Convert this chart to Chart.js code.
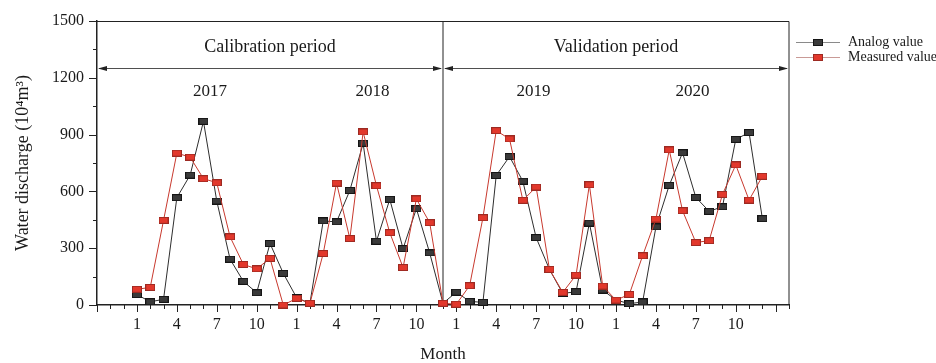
<!DOCTYPE html>
<html lang="en">
<head>
    <meta charset="UTF-8">
    <title>Water discharge</title>
    <script src="https://cdn.jsdelivr.net/npm/chart.js"></script>
    <style>
        body { margin: 0; background: #fff; }
        #chart { display: block; }
    </style>
</head>
<body>
    <canvas id="chart" width="936" height="363"></canvas>
    <script>
        // month index 0 = Jan 2017 ... 47 = Dec 2020
        const monthIndex = [...Array(48).keys()];
        const analogValue = [
            55, 17, 30, 567, 686, 970, 549, 242, 125, 65, 325, 167,
            39, 9, 444, 439, 605, 854, 337, 558, 298, 509, 275, 9,
            68, 19, 14, 684, 784, 654, 356, 188, 61, 70, 433, 79,
            26, 7, 16, 412, 632, 804, 568, 495, 519, 875, 911, 456
        ];
        const measuredValue = [
            83, 93, 447, 802, 781, 667, 646, 360, 214, 191, 246, 0,
            35, 9, 272, 644, 351, 914, 630, 382, 198, 560, 435, 9,
            4, 102, 461, 921, 877, 553, 623, 188, 67, 158, 635, 100,
            26, 56, 260, 454, 819, 498, 330, 340, 584, 740, 554, 680
        ];
        const monthLabels = ['1', '2', '3', '4', '5', '6', '7', '8', '9', '10', '11', '12'];
        const yearLabels = ['2017', '2018', '2019', '2020'];
        const yearLabelPos = [5.5, 17.7, 29.8, 41.75];
        const periodLabels = ['Calibration period', 'Validation period'];
        const periodLabelPos = [10, 36];
        const splitMonth = 23;

        const FONT = "'Liberation Serif', 'Times New Roman', serif";

        function makeMarker(fill, edge) {
            const c = document.createElement('canvas');
            c.width = 10;
            c.height = 7;
            const g = c.getContext('2d');
            g.fillStyle = edge;
            g.fillRect(0, 0, 10, 7);
            g.fillStyle = fill;
            g.fillRect(1, 1, 8, 5);
            return c;
        }
        const analogMarker = makeMarker('#3a3a3a', '#151515');
        const measuredMarker = makeMarker('#e2382c', '#9c2a22');

        function arrowHead(ctx, x, y, dir) {
            ctx.beginPath();
            ctx.moveTo(x, y);
            ctx.lineTo(x - dir * 9, y - 2.5);
            ctx.lineTo(x - dir * 9, y + 2.5);
            ctx.closePath();
            ctx.fill();
        }

        const decor = {
            id: 'decor',
            beforeDatasetsDraw(chart) {
                const { ctx, chartArea: a, scales: { x, y } } = chart;
                ctx.save();
                ctx.strokeStyle = '#222';
                ctx.fillStyle = '#222';

                // frame top / right
                ctx.lineWidth = 1;
                ctx.beginPath();
                ctx.moveTo(a.left, a.top + 0.5);
                ctx.lineTo(a.right, a.top + 0.5);
                ctx.lineTo(a.right, a.bottom);
                ctx.stroke();

                // split line
                const sx = x.getPixelForValue(splitMonth);
                ctx.beginPath();
                ctx.moveTo(sx, a.top);
                ctx.lineTo(sx, a.bottom);
                ctx.stroke();

                // period arrows
                const ay = Math.round(y.getPixelForValue(1250)) + 0.5;
                ctx.lineWidth = 0.8;
                [[a.left, sx], [sx, a.right]].forEach(([l, r]) => {
                    ctx.beginPath();
                    ctx.moveTo(l + 2, ay);
                    ctx.lineTo(r - 2, ay);
                    ctx.stroke();
                    arrowHead(ctx, l + 1, ay, -1);
                    arrowHead(ctx, r - 1, ay, 1);
                });

                // texts
                ctx.fillStyle = '#1a1a1a';
                ctx.textAlign = 'center';
                ctx.textBaseline = 'middle';
                ctx.font = '18px ' + FONT;
                periodLabels.forEach((t, i) => {
                    ctx.fillText(t, x.getPixelForValue(periodLabelPos[i]), y.getPixelForValue(1363));
                });
                ctx.font = '17px ' + FONT;
                yearLabels.forEach((t, i) => {
                    ctx.fillText(t, x.getPixelForValue(yearLabelPos[i]), y.getPixelForValue(1126));
                });

                // axis ticks (major longer)
                ctx.strokeStyle = '#222';
                ctx.lineWidth = 1;
                x.ticks.forEach(t => {
                    const px = Math.round(x.getPixelForValue(t.value)) + 0.5;
                    const len = (t.value % 3 === 0) ? 7 : 4;
                    ctx.beginPath();
                    ctx.moveTo(px, a.bottom);
                    ctx.lineTo(px, a.bottom + len);
                    ctx.stroke();
                });
                y.ticks.forEach(t => {
                    const py = Math.round(y.getPixelForValue(t.value)) + 0.5;
                    const len = (t.value % 300 === 0) ? 8 : 4;
                    ctx.beginPath();
                    ctx.moveTo(a.left, py);
                    ctx.lineTo(a.left - len, py);
                    ctx.stroke();
                });
                ctx.restore();
            },
            afterDraw(chart) {
                const { ctx } = chart;
                ctx.save();
                const items = [
                    { text: 'Analog value', marker: analogMarker, line: '#8a8a8a', y: 42.5 },
                    { text: 'Measured value', marker: measuredMarker, line: '#c99a96', y: 57.5 }
                ];
                ctx.font = '14px ' + FONT;
                ctx.textBaseline = 'middle';
                ctx.textAlign = 'left';
                items.forEach(it => {
                    ctx.strokeStyle = it.line;
                    ctx.lineWidth = 1;
                    ctx.beginPath();
                    ctx.moveTo(796, it.y);
                    ctx.lineTo(840, it.y);
                    ctx.stroke();
                    ctx.drawImage(it.marker, 813, it.y - 3.5);
                    ctx.fillStyle = '#1a1a1a';
                    ctx.fillText(it.text, 848, it.y);
                });
                ctx.restore();
            }
        };

        new Chart(document.getElementById('chart'), {
            type: 'line',
            data: {
                labels: monthIndex,
                datasets: [{
                    label: 'Analog value',
                    data: monthIndex.map((m, i) => ({ x: m, y: analogValue[i] })),
                    borderColor: '#2e2e2e',
                    borderWidth: 1,
                    pointStyle: analogMarker,
                    tension: 0,
                    order: 2
                }, {
                    label: 'Measured value',
                    data: monthIndex.map((m, i) => ({ x: m, y: measuredValue[i] })),
                    borderColor: '#c8392e',
                    borderWidth: 1,
                    pointStyle: measuredMarker,
                    tension: 0,
                    order: 1
                }]
            },
            options: {
                responsive: false,
                animation: false,
                clip: false,
                layout: { padding: { left: 0, right: 147, top: 21, bottom: 0 } },
                scales: {
                    x: {
                        type: 'linear',
                        min: -3,
                        max: 49,
                        afterFit: s => { s.height = 58; },
                        grid: { drawOnChartArea: false, tickLength: 7, tickColor: 'transparent' },
                        border: { color: '#222', width: 1.5 },
                        ticks: {
                            stepSize: 1,
                            autoSkip: false,
                            maxRotation: 0,
                            padding: 3,
                            color: '#1a1a1a',
                            font: { family: FONT, size: 16 },
                            callback: v => (v >= 0 && v < 48 && v % 3 === 0) ? monthLabels[v % 12] : ''
                        },
                        title: {
                            display: true,
                            text: 'Month',
                            color: '#1a1a1a',
                            font: { family: FONT, size: 17, lineHeight: 1 },
                            padding: { top: 0, bottom: 0 }
                        }
                    },
                    y: {
                        min: 0,
                        max: 1500,
                        afterFit: s => { s.width = 97; },
                        grid: { drawOnChartArea: false, tickLength: 8, tickColor: 'transparent' },
                        border: { color: '#222', width: 1.5 },
                        ticks: {
                            stepSize: 150,
                            padding: 5,
                            color: '#1a1a1a',
                            font: { family: FONT, size: 16 },
                            callback: v => v % 300 === 0 ? v : ''
                        },
                        title: {
                            display: true,
                            text: 'Water discharge (10⁴m³)',
                            color: '#1a1a1a',
                            font: { family: FONT, size: 18, lineHeight: 1 },
                            padding: { top: 14, bottom: 0 }
                        }
                    }
                },
                plugins: {
                    legend: { display: false },
                    tooltip: { enabled: false }
                }
            },
            plugins: [decor]
        });
    </script>
</body>
</html>
